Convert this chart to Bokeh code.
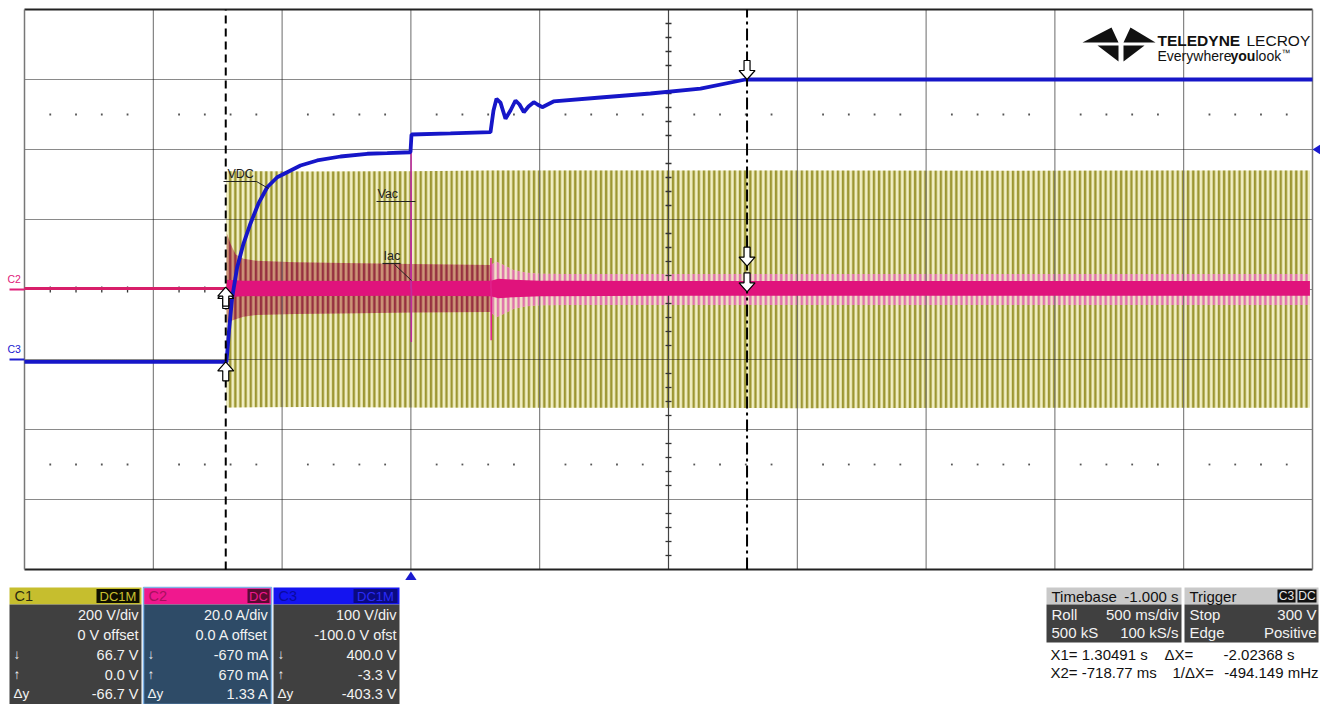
import numpy as np
from bokeh.plotting import figure
from bokeh.models import Range1d
from bokeh.layouts import column
from bokeh.embed import file_html
from bokeh.resources import INLINE
from bokeh.core.properties import value

# ---------------- scope settings ----------------
TIME_DIV = 0.5            # s/div
T_LEFT = -1.5             # s at left graticule edge
N_XDIV, N_YDIV = 10, 8
C1_VDIV, C1_OFS = 200.0, 0.0      # V/div, V offset
C2_ADIV, C2_OFS = 20.0, 0.0       # A/div, A offset
C3_VDIV, C3_OFS = 100.0, -100.0   # V/div, V offset

# ---------------- C3 : VDC (s, V) ----------------
c3_t = [-1.5, -0.7158, -0.7061, -0.6937, -0.6743, -0.6498, -0.6227, -0.5916, -0.5578,
        -0.5190, -0.4802, -0.4286, -0.3637, -0.2733, -0.1696, -0.0920, -0.0016, 0.0023,
        0.1537, 0.3090, 0.3206, 0.3323, 0.3478, 0.3672, 0.3866, 0.4060, 0.4216, 0.4383,
        0.4565, 0.4771, 0.4915, 0.5097, 0.5536, 0.7360, 0.9301, 1.1242, 1.2989, 2.0, 2.8, 3.5]
c3_v = [-3.3, -3.3, 41.4, 89.0, 131.9, 165.7, 194.3, 222.9, 246.1,
        260.4, 267.6, 277.1, 284.3, 290.0, 293.9, 294.7, 296.1, 321.4,
        322.9, 324.7, 355.7, 372.4, 367.0, 343.9, 355.7, 370.0, 364.3, 353.3,
        361.4, 367.6, 364.3, 360.4, 368.6, 374.3, 380.0, 387.1, 400.0, 400.0, 400.0, 400.0]

# ---------------- C1 : Vac envelope (s, V) ----------------
c1_t = [-0.716, -0.70, -0.40, 0.0, 0.31, 0.8, 1.5, 2.3, 3.0, 3.49]
c1_top = [338, 338, 337, 338, 340, 340, 340, 339, 340, 340]
c1_bot = [-337, -337, -336, -337, -338, -338, -339, -338, -338, -338]

# ---------------- C2 : Iac (s, A) ----------------
c2_pre_t = [-1.5, -0.716]
c2_pre_i = [0.3, 0.3]
c2_s1_t = [-0.716, -0.714, -0.70, -0.68, -0.65, -0.60, -0.45, -0.20, 0.0, 0.31]
c2_s1_hi = [0.3, 16.0, 13.0, 10.0, 8.8, 8.2, 7.8, 7.5, 7.3, 7.0]
c2_s1_lo = [0.3, -9.5, -9.0, -8.5, -7.8, -7.3, -7.0, -6.8, -6.6, -6.4]
c2_s2_t = [0.31, 0.33, 0.36, 0.40, 0.45, 0.50, 0.60, 1.0, 2.0, 3.49]
c2_s2_hi = [7.0, 8.0, 7.0, 5.5, 4.8, 4.5, 4.4, 4.4, 4.4, 4.4]
c2_s2_lo = [-6.4, -8.0, -7.0, -5.5, -4.8, -4.5, -4.4, -4.4, -4.4, -4.4]
c2_core_t = [-0.716, -0.714, -0.65, 0.0, 0.31, 0.34, 0.40, 0.50, 1.0, 2.0, 3.49]
c2_core_hi = [0.8, 2.8, 2.5, 2.4, 2.5, 3.1, 2.8, 2.5, 2.4, 2.4, 2.4]
c2_core_lo = [-0.2, -2.2, -1.9, -1.8, -1.9, -2.5, -2.2, -1.9, -1.8, -1.8, -1.8]
c2_spk1_t = [0.0, 0.0008, 0.0016, 0.0024]
c2_spk1_i = [0.3, 40.0, -15.0, 0.3]
c2_spk2_t = [0.310, 0.3108, 0.3116, 0.3124]
c2_spk2_i = [0.3, 9.0, -14.5, 0.3]

# ---------------- cursors / trigger ----------------
cursor_x1, cursor_x2 = 1.30491, -0.71877
x1_vals = {"c1": 66.7, "c2": -0.670, "c3": 400.0}
x2_vals = {"c1": 0.0, "c2": 0.670, "c3": -3.3}
trig_time, trig_level = 0.0, 300.0

# ---------------- info panel texts ----------------
c1_info = ["200 V/div", "0 V offset", "66.7 V", "0.0 V", "-66.7 V"]
c2_info = ["20.0 A/div", "0.0 A offset", "-670 mA", "670 mA", "1.33 A"]
c3_info = ["100 V/div", "-100.0 V ofst", "400.0 V", "-3.3 V", "-403.3 V"]
row_syms = ["", "", "\u2193", "\u2191", "\u0394y"]

# ---------------- helpers ----------------
PX_DIV_X = 128.8
PX_DIV_Y = 70.0
PX_PER_S = PX_DIV_X / TIME_DIV
def tx(X):      # screen px -> time
    return T_LEFT + (X - 24) / PX_PER_S
def dy(Y):      # screen px -> divisions
    return (289 - Y) / PX_DIV_Y
def div_of(ch, v):
    vd, of = {"c1": (C1_VDIV, C1_OFS), "c2": (C2_ADIV, C2_OFS), "c3": (C3_VDIV, C3_OFS)}[ch]
    return (v + of) / vd

FONT = value("Liberation Sans")
ylo, yhi = dy(580), dy(0)
p = figure(width=1320, height=580, x_range=Range1d(tx(0), tx(1320)),
           y_range=Range1d(ylo, yhi), output_backend="svg", toolbar_location=None,
           x_axis_location=None, y_axis_location=None, title=None,
           min_border=0, outline_line_color=None,
           background_fill_color="white", border_fill_color="white")
p.min_border_left = p.min_border_right = p.min_border_top = p.min_border_bottom = 0
p.grid.grid_line_color = None
p.extra_y_ranges = {
    "c1": Range1d(ylo * C1_VDIV - C1_OFS, yhi * C1_VDIV - C1_OFS),
    "c2": Range1d(ylo * C2_ADIV - C2_OFS, yhi * C2_ADIV - C2_OFS),
    "c3": Range1d(ylo * C3_VDIV - C3_OFS, yhi * C3_VDIV - C3_OFS),
}
T_RIGHT = T_LEFT + N_XDIV * TIME_DIV
T_MID = T_LEFT + N_XDIV * TIME_DIV / 2

# ---- C1 yellow band (aliased 50 Hz sine -> stripes)
p.varea(x=c1_t, y1=c1_bot, y2=c1_top, y_range_name="c1", fill_color="#f1efc4",
        hatch_pattern="vertical_line", hatch_color="#9c9632", hatch_scale=5.15, hatch_weight=2.4)

# ---- C2 outer stripes
p.varea(x=c2_s1_t, y1=c2_s1_lo, y2=c2_s1_hi, y_range_name="c2", fill_color="#c98a70",
        fill_alpha=0.9, hatch_pattern="vertical_line", hatch_color="#963040",
        hatch_scale=5.15, hatch_weight=2.4)
p.varea(x=c2_s2_t, y1=c2_s2_lo, y2=c2_s2_hi, y_range_name="c2", fill_color="#f3dcc8",
        fill_alpha=0.8, hatch_pattern="vertical_line", hatch_color="#e070ac",
        hatch_scale=5.15, hatch_weight=2.4)

# ---- graticule
xs_grid = [T_LEFT + k * TIME_DIV for k in range(1, N_XDIV)]
p.segment(x0=xs_grid, y0=-N_YDIV / 2, x1=xs_grid, y1=N_YDIV / 2, line_color="#6a6a6a", line_width=1)
ys_grid = [k - N_YDIV / 2 for k in range(1, N_YDIV)]
p.segment(x0=T_LEFT, y0=ys_grid, x1=T_RIGHT, y1=ys_grid, line_color="#151515",
          line_width=1.2, line_dash="1 1")
p.segment(x0=[T_MID], y0=[-N_YDIV / 2], x1=[T_MID], y1=[N_YDIV / 2], line_color="#444", line_width=1.2)
yt = [k * 0.2 - N_YDIV / 2 for k in range(1, N_YDIV * 5) if k % 5]
p.segment(x0=T_MID - 3 / PX_PER_S, y0=yt, x1=T_MID + 3 / PX_PER_S, y1=yt, line_color="#333", line_width=1.3)
xt = [T_LEFT + k * TIME_DIV / 5 for k in range(1, N_XDIV * 5) if k % 5]
p.segment(x0=xt, y0=-3 / PX_DIV_Y, x1=xt, y1=3 / PX_DIV_Y, line_color="#333", line_width=1.3)
dot_x = xt + xt
dot_y = [2.5] * len(xt) + [-2.5] * len(xt)
p.scatter(dot_x, dot_y, marker="square", size=1.8, fill_color="#555", line_color=None)
p.segment(x0=[T_LEFT, T_LEFT], y0=[N_YDIV / 2, -N_YDIV / 2], x1=[T_RIGHT, T_RIGHT],
          y1=[N_YDIV / 2, -N_YDIV / 2], line_color="#222", line_width=2)
p.segment(x0=[T_LEFT, T_RIGHT], y0=[-N_YDIV / 2] * 2, x1=[T_LEFT, T_RIGHT], y1=[N_YDIV / 2] * 2,
          line_color="#777", line_width=1.5)

# ---- C2 core trace (over graticule)
p.varea(x=c2_core_t, y1=c2_core_lo, y2=c2_core_hi, y_range_name="c2", fill_color="#e0137c")
p.line(c2_pre_t, c2_pre_i, y_range_name="c2", line_color="#d81f6a", line_width=3)
p.line(c2_spk1_t, c2_spk1_i, y_range_name="c2", line_color="#c02c9c", line_width=1.5)
p.line(c2_spk2_t, c2_spk2_i, y_range_name="c2", line_color="#e0208a", line_width=1.5)

# ---- C3 blue
p.line(c3_t, c3_v, y_range_name="c3", line_color="#1616c8", line_width=3.8)

# ---- waveform annotations
def ann(txt, X, Y, ul, leader=None):
    p.text(x=[tx(X)], y=[dy(Y)], text=[txt], text_font=FONT, text_font_size="12.5px",
           text_color="#1e1e1e", text_baseline="bottom", text_align="left")
    p.segment(x0=[tx(ul[0])], y0=[dy(ul[2])], x1=[tx(ul[1])], y1=[dy(ul[2])], line_color="#222", line_width=1.2)
    if leader:
        p.segment(x0=[tx(leader[0])], y0=[dy(leader[1])], x1=[tx(leader[2])], y1=[dy(leader[3])],
                  line_color="#222", line_width=1)
ann("VDC", 227, 180, (223, 256, 181), (256, 181, 268, 188))
ann("Vac", 377, 200, (376, 415, 201))
ann("Iac", 383, 262, (382, 400, 263), (394, 264, 411, 280))

# ---- cursors
p.segment(x0=[cursor_x2], y0=[-N_YDIV / 2], x1=[cursor_x2], y1=[N_YDIV / 2], line_color="black",
          line_width=2, line_dash="8 5")
p.segment(x0=[cursor_x1], y0=[-N_YDIV / 2], x1=[cursor_x1], y1=[N_YDIV / 2], line_color="black",
          line_width=2, line_dash="12 4 3 4")

def arrow(t, d, down=True):
    pts = [(0, 0), (-8, 9), (-3, 9), (-3, 19), (3, 19), (3, 9), (8, 9)]
    s = 1 if down else -1
    return [t + a / PX_PER_S for a, b in pts], [d + s * b / PX_DIV_Y for a, b in pts]
axs, ays = [], []
for ch, v in x1_vals.items():
    a, b = arrow(cursor_x1, div_of(ch, v), True); axs.append(a); ays.append(b)
for ch, v in x2_vals.items():
    a, b = arrow(cursor_x2, div_of(ch, v), False); axs.append(a); ays.append(b)
p.patches(axs, ays, fill_color="white", line_color="black", line_width=1.2)

# ---- trigger markers
tt = div_of("c3", trig_level)
p.patch([trig_time, trig_time - 6 / PX_PER_S, trig_time + 6 / PX_PER_S],
        [dy(571), dy(580), dy(580)], fill_color="#1a1ad0", line_color=None)
p.patch([tx(1312), tx(1320), tx(1320)], [tt, tt + 5 / PX_DIV_Y, tt - 5 / PX_DIV_Y],
        fill_color="#1a1ad0", line_color=None)

# ---- channel ground markers at left
for ch, col, lab in (("c2", "#e0207a", "C2"), ("c3", "#2020d0", "C3")):
    z = div_of(ch, 0.0)
    p.segment(x0=[tx(9)], y0=[z], x1=[tx(24)], y1=[z], line_color=col, line_width=2)
    p.text(x=[tx(7)], y=[z + 5 / PX_DIV_Y], text=[lab], text_font=FONT, text_font_size="10.5px",
           text_color=col, text_baseline="bottom")

# ---- logo
logo = [[(1082, 42), (1111, 27), (1118, 42)],
        [(1123, 42), (1130, 27), (1155, 42)],
        [(1097, 45), (1118, 45), (1118, 61)],
        [(1123, 45), (1144, 45), (1123, 61)]]
p.patches([[tx(a) for a, b in poly] for poly in logo], [[dy(b) for a, b in poly] for poly in logo],
          fill_color="#111", line_color=None)
def ltxt(txt, X, Y, size, style):
    p.text(x=[tx(X)], y=[dy(Y)], text=[txt], text_font=FONT, text_font_size=size,
           text_font_style=style, text_color="#111", text_baseline="alphabetic")
ltxt("TELEDYNE", 1157, 40, "15.5px", "bold")
ltxt("LECROY", 1246, 40, "15.5px", "normal")
ltxt("Everywhere", 1157, 55, "14px", "normal")
ltxt("you", 1230, 55, "14px", "bold")
ltxt("look", 1255, 55, "14px", "normal")
ltxt("\u2122", 1281, 52, "9px", "normal")

# ================= info panel =================
p2 = figure(width=1320, height=124, x_range=Range1d(0, 1320), y_range=Range1d(704, 580),
            output_backend="svg", toolbar_location=None, x_axis_location=None,
            y_axis_location=None, title=None, min_border=0, outline_line_color=None,
            background_fill_color="white", border_fill_color="white")
p2.min_border_left = p2.min_border_right = p2.min_border_top = p2.min_border_bottom = 0
p2.grid.grid_line_color = None

def ptext(x, y, t, align="left", color="#f2f2f2", size="14.5px", style="normal"):
    p2.text(x=[x], y=[y], text=[t], text_align=align, text_baseline="middle",
            text_color=color, text_font=FONT, text_font_size=size, text_font_style=style)

ROWS = [614, 634, 654, 674, 693]
HDR = 595.5
boxes = [
    ("C1", 9, 141, "#c6be2e", "#2a2a10", "DC1M", 96, "#101000", "#c8c030", "#404040", c1_info),
    ("C2", 143, 271, "#f0188e", "#a8105e", "DC", 247, "#5a0a32", "#f0188e", "#2e4b67", c2_info),
    ("C3", 273, 399, "#1414f0", "#0a0aa0", "DC1M", 353, "#0a0a80", "#2a2af8", "#404040", c3_info),
]
for name, l, r, hc, htc, badge, bl, bc, btc, body, info in boxes:
    p2.quad(left=l, right=r, top=587, bottom=604, fill_color=hc, line_color=None)
    p2.quad(left=l, right=r, top=604, bottom=704, fill_color=body, line_color=None)
    p2.quad(left=bl, right=r - 2, top=588.5, bottom=602.5, fill_color=bc, line_color=None)
    ptext(l + 5, HDR, name, color=htc)
    ptext((bl + r - 2) / 2, HDR, badge, align="center", color=btc, size="13px")
    for yy, sym, t in zip(ROWS, row_syms, info):
        ptext(r - 3, yy, t, align="right")
        if sym:
            ptext(l + 4, yy, sym, size="13.5px")
p2.quad(left=143, right=271, top=587, bottom=704, fill_color=None, line_color="#7fb2e6", line_width=1.5)

for l, r in ((1046, 1181), (1184, 1318)):
    p2.quad(left=l, right=r, top=587, bottom=604, fill_color="#c9c9c9", line_color=None)
    p2.quad(left=l, right=r, top=604, bottom=642, fill_color="#404040", line_color=None)
ptext(1051, HDR, "Timebase", color="#111", size="15px")
ptext(1178, HDR, "-1.000 s", align="right", color="#111", size="15px")
ptext(1051, 614, "Roll", size="15px"); ptext(1178, 614, "500 ms/div", align="right", size="15px")
ptext(1051, 632, "500 kS", size="15px"); ptext(1178, 632, "100 kS/s", align="right", size="15px")
ptext(1189, HDR, "Trigger", color="#111", size="15px")
p2.quad(left=1277, right=1295, top=589, bottom=602, fill_color="#111", line_color=None)
p2.quad(left=1297, right=1316, top=589, bottom=602, fill_color="#111", line_color=None)
ptext(1286, HDR, "C3", align="center", size="12px", color="#e8e8e8")
ptext(1306.5, HDR, "DC", align="center", size="12px", color="#e8e8e8")
ptext(1189, 614, "Stop", size="15px"); ptext(1316, 614, "300 V", align="right", size="15px")
ptext(1189, 632, "Edge", size="15px"); ptext(1316, 632, "Positive", align="right", size="15px")
ptext(1050, 654, "X1= 1.30491 s", color="#111", size="15px")
ptext(1164, 654, "\u0394X=", color="#111", size="15px")
ptext(1294, 654, "-2.02368 s", align="right", color="#111", size="15px")
ptext(1050, 672, "X2= -718.77 ms", color="#111", size="15px")
ptext(1172, 672, "1/\u0394X=", color="#111", size="15px")
ptext(1318, 672, "-494.149 mHz", align="right", color="#111", size="15px")

layout = column(p, p2, spacing=0)
open("out.html", "w").write(file_html(layout, INLINE))
